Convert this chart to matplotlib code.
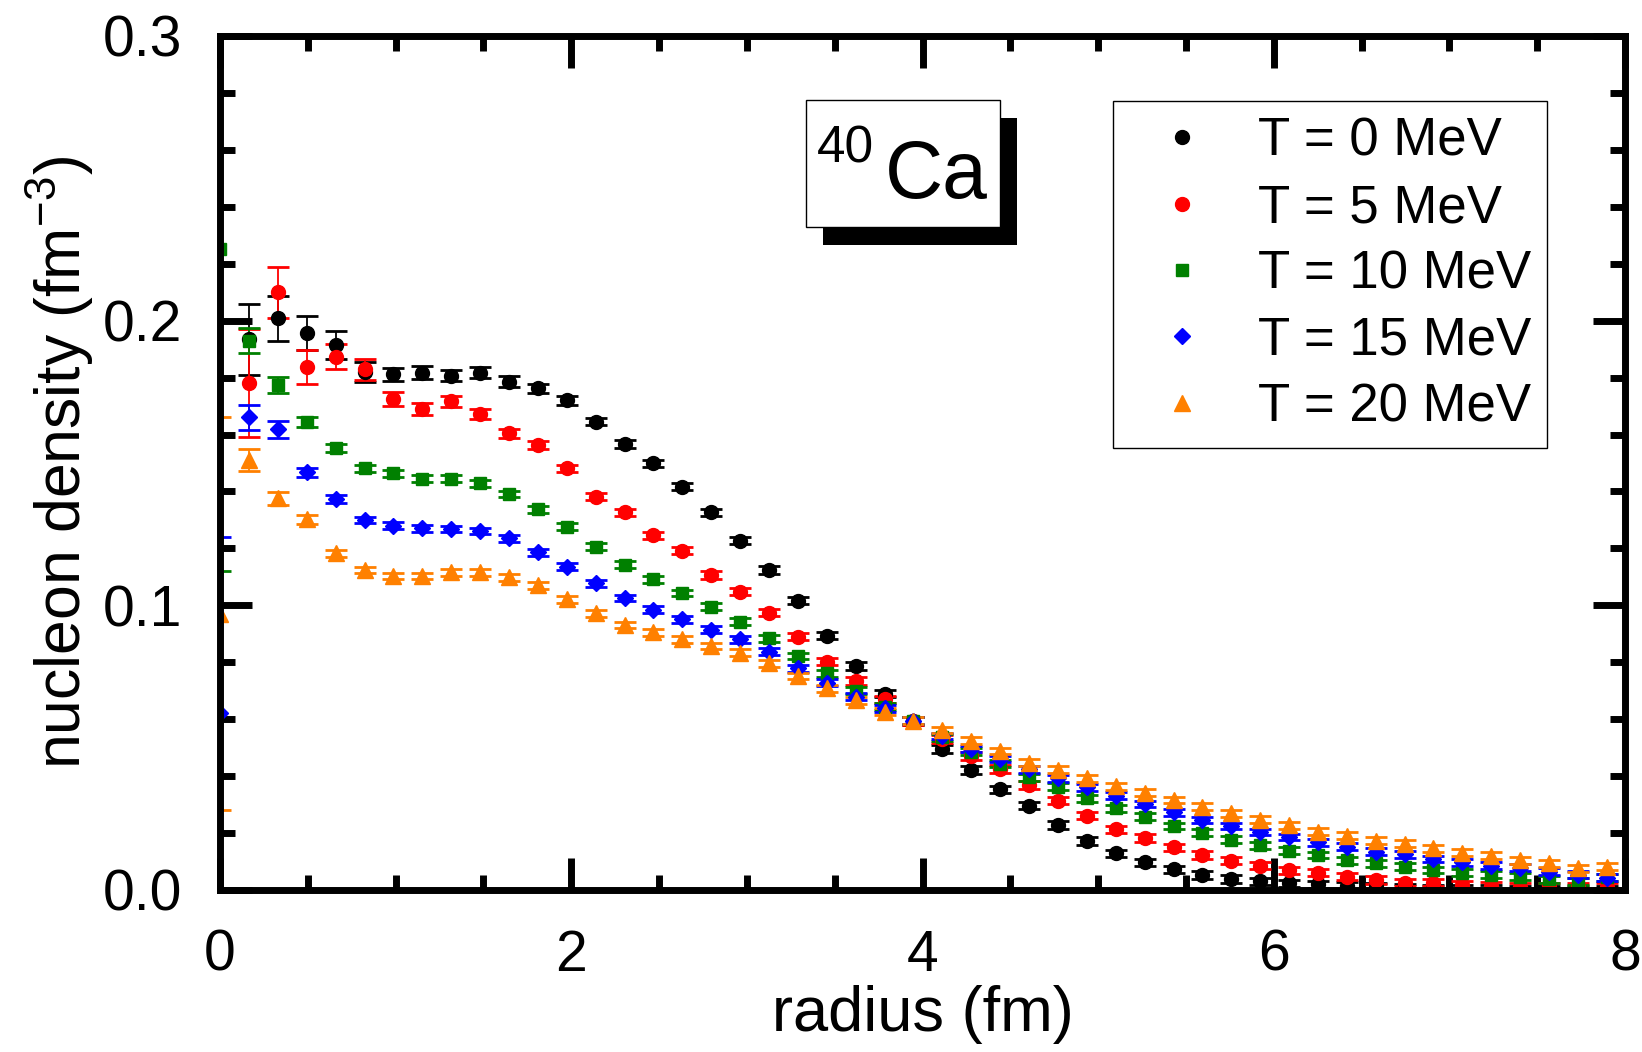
import numpy as np
import matplotlib.pyplot as plt
from matplotlib.patches import Rectangle
from matplotlib.ticker import MultipleLocator, FormatStrFormatter

plt.rcParams['font.family'] = ['Liberation Sans', 'DejaVu Sans']
plt.rcParams['mathtext.fontset'] = 'custom'
plt.rcParams['mathtext.rm'] = 'Liberation Sans'
plt.rcParams['mathtext.default'] = 'regular'

# === Data ===
radius = [0.000, 0.164, 0.329, 0.494, 0.658, 0.823, 0.987, 1.152, 1.316, 1.481,
          1.645, 1.810, 1.974, 2.139, 2.303, 2.468, 2.632, 2.797, 2.961, 3.126,
          3.290, 3.455, 3.619, 3.784, 3.948, 4.113, 4.277, 4.442, 4.606, 4.771,
          4.935, 5.100, 5.264, 5.429, 5.593, 5.758, 5.922, 6.087, 6.251, 6.416,
          6.580, 6.745, 6.909, 7.074, 7.238, 7.403, 7.567, 7.732, 7.896]

dens_T0 = [np.nan, 0.1935, 0.2008, 0.1958, 0.1915, 0.1821, 0.1811, 0.1817, 0.1807, 0.1817,
           0.1786, 0.1762, 0.1721, 0.1645, 0.1567, 0.1499, 0.1417, 0.1327, 0.1227, 0.1124,
           0.1016, 0.0893, 0.0787, 0.0690, 0.0594, 0.0495, 0.0422, 0.0354, 0.0296, 0.0228,
           0.0172, 0.0129, 0.0097, 0.0073, 0.0053, 0.0038, 0.0030, 0.0023, 0.0020, 0.0015,
           0.0010, 0.0008, 0.0005, 0.0004, 0.0003, 0.0002, 0.0002, 0.0001, 0.0001]
dens_T5 = [np.nan, 0.1780, 0.2100, 0.1836, 0.1874, 0.1829, 0.1724, 0.1689, 0.1716, 0.1672,
           0.1604, 0.1563, 0.1481, 0.1382, 0.1327, 0.1246, 0.1192, 0.1107, 0.1048, 0.0974,
           0.0890, 0.0802, 0.0734, 0.0670, 0.0594, 0.0530, 0.0471, 0.0425, 0.0369, 0.0314,
           0.0261, 0.0213, 0.0182, 0.0150, 0.0123, 0.0103, 0.0085, 0.0069, 0.0061, 0.0047,
           0.0035, 0.0026, 0.0026, 0.0018, 0.0014, 0.0012, 0.0010, 0.0010, 0.0010]
dens_T10 = [0.2250, 0.1930, 0.1774, 0.1643, 0.1552, 0.1481, 0.1464, 0.1445, 0.1445, 0.1429,
            0.1391, 0.1337, 0.1276, 0.1206, 0.1142, 0.1091, 0.1043, 0.0995, 0.0943, 0.0884,
            0.0822, 0.0761, 0.0700, 0.0644, 0.0594, 0.0536, 0.0486, 0.0443, 0.0396, 0.0363,
            0.0322, 0.0287, 0.0258, 0.0225, 0.0201, 0.0176, 0.0157, 0.0138, 0.0123, 0.0105,
            0.0094, 0.0082, 0.0070, 0.0061, 0.0053, 0.0047, 0.0038, 0.0029, 0.0045]
dens_T15 = [0.0620, 0.1660, 0.1618, 0.1467, 0.1372, 0.1300, 0.1279, 0.1271, 0.1268, 0.1261,
            0.1235, 0.1186, 0.1136, 0.1077, 0.1026, 0.0985, 0.0951, 0.0915, 0.0881, 0.0837,
            0.0779, 0.0728, 0.0679, 0.0638, 0.0594, 0.0541, 0.0495, 0.0460, 0.0424, 0.0392,
            0.0361, 0.0331, 0.0302, 0.0273, 0.0246, 0.0225, 0.0204, 0.0186, 0.0167, 0.0152,
            0.0135, 0.0126, 0.0109, 0.0097, 0.0085, 0.0078, 0.0064, 0.0053, 0.0043]
dens_T20 = [0.0970, 0.1510, 0.1376, 0.1303, 0.1183, 0.1124, 0.1103, 0.1103, 0.1116, 0.1116,
            0.1098, 0.1071, 0.1021, 0.0972, 0.0931, 0.0905, 0.0881, 0.0857, 0.0834, 0.0796,
            0.0752, 0.0708, 0.0667, 0.0627, 0.0594, 0.0562, 0.0524, 0.0488, 0.0447, 0.0422,
            0.0392, 0.0365, 0.0342, 0.0316, 0.0293, 0.0269, 0.0247, 0.0228, 0.0205, 0.0190,
            0.0173, 0.0162, 0.0146, 0.0131, 0.0120, 0.0105, 0.0094, 0.0076, 0.0082]

err_T0 = [np.nan, 0.0125, 0.0080, 0.0060, 0.0048, 0.0035, 0.0023, 0.0022, 0.0020, 0.0020,
          0.0018, 0.0017, 0.0016] + [0.0013] * 36
err_T5 = [np.nan, 0.0190, 0.0090, 0.0060, 0.0045, 0.0036, 0.0025, 0.0022, 0.0020, 0.0018,
          0.0016] + [0.0013] * 38
err_T10 = [0.1130, 0.0045, 0.0028, 0.0017, 0.0015] + [0.0012] * 44
err_T15 = [0.0620, 0.0045, 0.0030, 0.0017, 0.0014] + [0.0012] * 44
err_T20 = [0.0690, 0.0039, 0.0022, 0.0016] + [0.0012] * 45

labels = ["T = 0 MeV", "T = 5 MeV", "T = 10 MeV", "T = 15 MeV", "T = 20 MeV"]
colors = ["black", "#ff0000", "#008000", "#0000ff", "#ff8000"]
markers = ["o", "o", "s", "D", "^"]
msizes = [10, 10, 9, 8.5, 11.5]

# === Figure ===
fig = plt.figure(figsize=(16.42, 10.52), dpi=100)
ax = fig.add_axes([0.134, 0.154, 0.8557, 0.8118])

handles = []
for y, e, c, m, ms, lab in zip([dens_T0, dens_T5, dens_T10, dens_T15, dens_T20],
                               [err_T0, err_T5, err_T10, err_T15, err_T20],
                               colors, markers, msizes, labels):
    eb = ax.errorbar(radius, y, yerr=e, fmt=m, color=c, ms=ms,
                     capsize=8, elinewidth=1.3, capthick=2, label=lab)
    handles.append(eb[0])

ax.set_xlim(0, 8)
ax.set_ylim(0, 0.3)
ax.xaxis.set_major_locator(MultipleLocator(2))
ax.xaxis.set_minor_locator(MultipleLocator(0.5))
ax.yaxis.set_major_locator(MultipleLocator(0.1))
ax.yaxis.set_minor_locator(MultipleLocator(0.02))
ax.yaxis.set_major_formatter(FormatStrFormatter('%.1f'))

ax.tick_params(which='both', direction='in', top=True, right=True, width=5)
ax.tick_params(which='major', length=23, labelsize=41)
ax.tick_params(which='minor', length=11)
ax.tick_params(axis='y', pad=27)
ax.tick_params(axis='x', pad=28)
for s in ax.spines.values():
    s.set_linewidth(5)

ax.set_xlabel("radius (fm)", fontsize=45.5)
ax.set_ylabel(r"nucleon density (fm$^{-3}$)", fontsize=45)
ax.xaxis.set_label_coords(0.5, -0.111)
ax.yaxis.set_label_coords(-0.088, 0.5)

leg = ax.legend(handles=handles, labels=labels, loc='upper left',
                bbox_to_anchor=(0.6778, 0.904), bbox_transform=fig.transFigure,
                borderaxespad=0, borderpad=0.3, handlelength=2.0, handletextpad=0.45,
                labelspacing=0.31, fontsize=38, fancybox=False, framealpha=1,
                edgecolor='black', numpoints=1)
leg.get_frame().set_linewidth(1)

# === 40Ca label box with shadow ===
fig.add_artist(Rectangle((0.5012, 0.7671), 0.1181, 0.1207, transform=fig.transFigure,
                         facecolor='black', edgecolor='none'))
fig.add_artist(Rectangle((0.4909, 0.7842), 0.1181, 0.1207, transform=fig.transFigure,
                         facecolor='white', edgecolor='black', linewidth=1))
fig.text(0.4976, 0.846, "40", fontsize=37, va='baseline')
fig.text(0.539, 0.8118, "Ca", fontsize=58, va='baseline')

fig.savefig("out.png", dpi=100)
